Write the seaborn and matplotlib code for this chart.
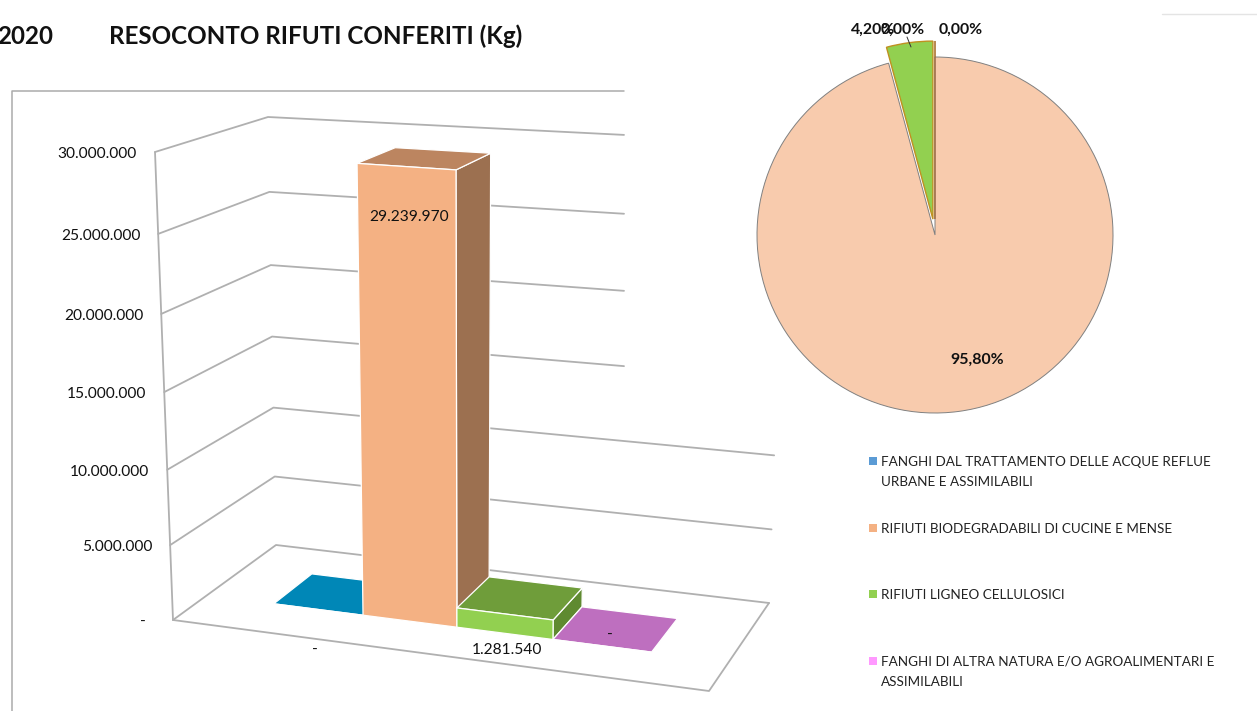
import numpy as np
import pandas as pd
import matplotlib
matplotlib.use("Agg")
import matplotlib.pyplot as plt
import seaborn as sns

# ---------- data ----------
categories = ["FANGHI DAL TRATTAMENTO DELLE ACQUE REFLUE\nURBANE E ASSIMILABILI",
              "RIFIUTI BIODEGRADABILI DI CUCINE E MENSE",
              "RIFIUTI LIGNEO CELLULOSICI",
              "FANGHI DI ALTRA NATURA E/O AGROALIMENTARI E\nASSIMILABILI"]
values = [0, 29239970, 1281540, 0]
ticks = [0, 5000000, 10000000, 15000000, 20000000, 25000000, 30000000]
year_label = "2020"
title_label = "RESOCONTO RIFUTI CONFERITI (Kg)"

# ---------- styles ----------
front_cols = ["#0087B7", "#F4B183", "#92D050", "#BE6FBF"]
top_cols = ["#0087B7", "#BC8560", "#6F9D3A", "#BE6FBF"]
side_cols = ["#00688C", "#9C7050", "#5F8A30", "#9A5A9A"]
legend_cols = ["#5B9BD5", "#F4B183", "#92D050", "#FF99FF"]
pie_cols = ["#5B9BD5", "#F8CBAD", "#92D050", "#FF99FF"]
pie_edges = ["#C09020", "#808080", "#C09020", "#A06030"]
GRID = "#B0B0B0"
FONT = "Lato"

sns.set_theme(style="white")
plt.rcParams["font.family"] = [FONT, "DejaVu Sans"]

W, H = 1257, 711
fig = plt.figure(figsize=(W / 100, H / 100), dpi=100, facecolor="white")


def df(x, y):
    return pd.DataFrame({"x": x, "y": y})


# ---------- pie ----------
cx, cy, R, half = 935, 235, 178, 215
pax = fig.add_axes([(cx - half) / W, 1 - (cy + half) / H, 2 * half / W, 2 * half / H], zorder=0)
wedges, _ = pax.pie(values, colors=pie_cols, startangle=90, counterclock=False,
                    explode=[0.09, 0, 0.09, 0.09], radius=1,
                    wedgeprops={"linewidth": 0.8})
for w, e in zip(wedges, pie_edges):
    w.set_edgecolor(e)
wedges[1].set_linewidth(0.7)
wedges[2].set_linewidth(1.0)
pax.set_xlim(-half / R, half / R)
pax.set_ylim(-half / R, half / R)

# ---------- perspective chart on a pixel canvas ----------
ax = fig.add_axes([0, 0, 1, 1], zorder=1)
ax.patch.set_alpha(0)
ax.axis("off")

# projection: (u along the floor, d into depth, f up the axis) -> pixel
floor = {"fl": (173, 620), "fr": (709, 691), "bl": (276, 545), "br": (769, 603)}
roof = {"fl": (155, 152), "fr": (722, 192), "bl": (268, 117), "br": (785, 143)}
axis_fracs = [0, 0.160, 0.321, 0.487, 0.654, 0.825, 1.0]
BAR_EDGES = [0.128, 0.299, 0.479, 0.663, 0.852]
BAR_D0, BAR_D1 = 0.33, 0.72


def bil(c, u, d):
    c = {k: np.array(v, float) for k, v in c.items()}
    front = c["fl"] + (c["fr"] - c["fl"]) * u
    back = c["bl"] + (c["br"] - c["bl"]) * u
    return front + (back - front) * d


def P(u, d, v):
    f = np.interp(v, ticks, axis_fracs)
    a, b = bil(floor, u, d), bil(roof, u, d)
    return a + (b - a) * f


def seg(points, color=GRID, lw=1.3):
    pts = np.array(points)
    d = df(pts[:, 0], pts[:, 1])
    sns.lineplot(data=d, x="x", y="y", sort=False, estimator=None, color=color,
                 linewidth=lw, ax=ax, legend=False, zorder=2)


# frame of the chart area
seg([(12, 711), (12, 91), (624, 91)], color="#ABABAB", lw=1.1)
seg([(1162, 14), (1257, 14)], color="#E4E4E4", lw=1.0)

# walls and floor
CLIP_X = 624
for t in ticks:
    p0, pf, p1 = P(0, 0, t), P(0, 1, t), P(1, 1, t)
    end = p1
    if t > 10000000:
        s = (CLIP_X - pf[0]) / (p1[0] - pf[0])
        end = pf + (p1 - pf) * s
    seg([p0, pf, end])
seg([P(0, 0, 0), P(0, 0, ticks[-1])])
seg([P(0, 0, 0), P(1, 0, 0), P(1, 1, 0)])


# bars
def poly(pts, col, z):
    pts = np.array(pts)
    ax.fill(pts[:, 0], pts[:, 1], facecolor=col, edgecolor="white", linewidth=0.9,
            joinstyle="round", zorder=z)


for i, v in enumerate(values):
    u0, u1 = BAR_EDGES[i], BAR_EDGES[i + 1]
    z = 3 + i
    poly([P(u1, BAR_D0, 0), P(u1, BAR_D1, 0), P(u1, BAR_D1, v), P(u1, BAR_D0, v)], side_cols[i], z)
    poly([P(u0, BAR_D0, v), P(u1, BAR_D0, v), P(u1, BAR_D1, v), P(u0, BAR_D1, v)], top_cols[i], z)
    poly([P(u0, BAR_D0, 0), P(u1, BAR_D0, 0), P(u1, BAR_D0, v), P(u0, BAR_D0, v)], front_cols[i], z)


def fmt(v):
    return f"{v:,}".replace(",", ".") if v else "-"


# axis labels
for t in ticks:
    p = P(0, 0, t)
    if t:
        ax.text(p[0] - 18, p[1] + 2, fmt(t), ha="right", va="center", fontsize=11.2, color="#111111", zorder=8)
    else:
        ax.text(p[0] - 30, p[1] + 2, fmt(t), ha="center", va="center", fontsize=11.2, color="#111111", zorder=8)

# data labels
label_xy = [(315, 650), (409, 217), (507, 650), (610, 635)]
for (lx, ly), v in zip(label_xy, values):
    ax.text(lx, ly, fmt(v), ha="center", va="center", fontsize=11.2, color="#111111", zorder=9)

# titles
ax.text(-3, 36, year_label, ha="left", va="center", fontsize=17.4, fontweight="bold", color="#111111", zorder=9)
ax.text(109, 36, title_label, ha="left", va="center", fontsize=17.4, fontweight="bold", color="#111111", zorder=9)

# pie labels
total = sum(values)
pcts = [f"{100 * v / total:.2f}%".replace(".", ",") for v in values]
pie_xy = {0: (903, 30), 1: (977, 360), 2: (873, 30), 3: (961, 30)}
for k in [2, 0, 3, 1]:
    ax.text(*pie_xy[k], pcts[k], ha="center", va="center", fontsize=11.4, fontweight="bold", color="#111111", zorder=9)
seg([(907, 37), (911, 47)], color="#333333", lw=0.7)

# legend
leg_x = [873] * 4
leg_y = [461, 528, 594, 661]
sns.scatterplot(data=df(leg_x, leg_y).assign(c=categories), x="x", y="y", hue="c", palette=legend_cols,
                marker="s", s=40, linewidth=0, legend=False, ax=ax, zorder=9)
for y, c in zip(leg_y, categories):
    for j, line in enumerate(c.split("\n")):
        ax.text(881, y + 1 + j * 19.5, line, ha="left", va="center", fontsize=9.7, color="#222222", zorder=9)

ax.set_xlim(0, W)
ax.set_ylim(H, 0)
ax.set_xlabel("")
ax.set_ylabel("")
ax.axis("off")
fig.savefig("out.png", dpi=100, facecolor="white")
